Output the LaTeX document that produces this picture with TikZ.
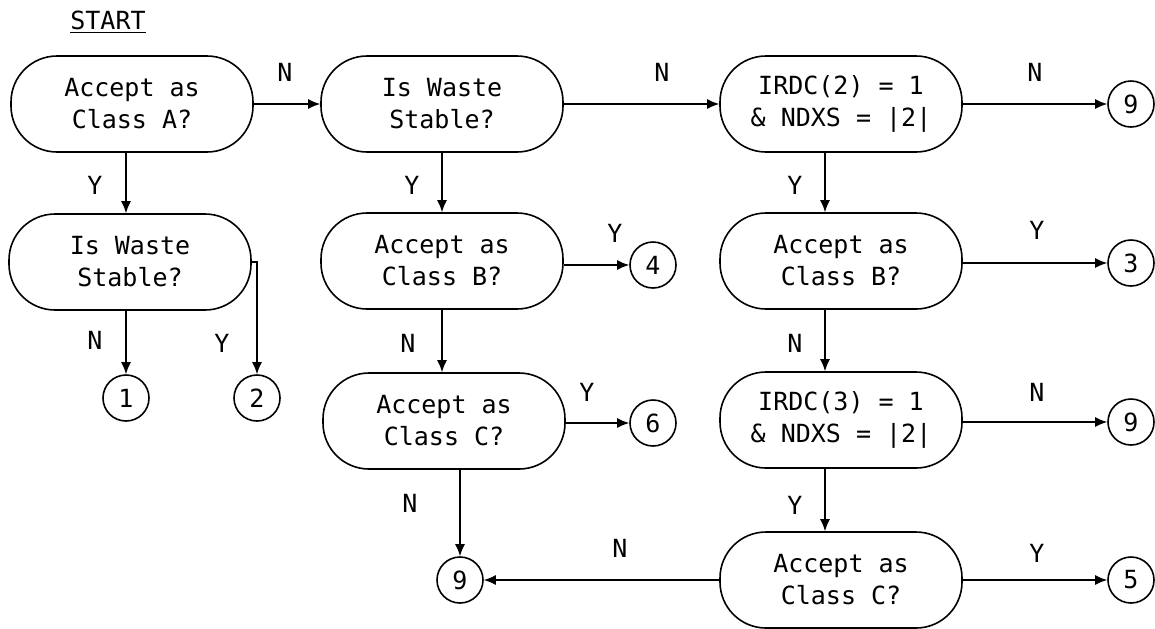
\documentclass[tikz,border=0pt]{standalone}
\usepackage{fontspec}
\setmonofont{DejaVu Sans Mono}
\usetikzlibrary{arrows.meta}

\begin{document}
\begin{tikzpicture}[x=0.5pt,y=-0.5pt,
    every node/.style={font=\ttfamily\fontsize{12.5}{16}\selectfont},
    test/.style={draw,line width=0.8pt,rounded corners=23pt,minimum width=121pt,minimum height=48pt,align=center,inner sep=0pt},
    conn/.style={draw,line width=0.8pt,circle,minimum size=23pt,inner sep=0pt},
    flow/.style={-{Latex[length=6pt,width=5pt]},line width=0.7pt}]
    \useasboundingbox (0,0) rectangle (1155,628);
    \node (start) at (108,22){\underline{START}};
    % left column
    \node[test] (a1) at (132,104){Accept as\\ Class A?};
    \node[test] (s1) at (130,262){Is Waste\\ Stable?};
    \node[conn] (c1) at (126,398){1}; \node[conn] (c2) at (257,398){2};
    % middle column
    \node[test] (w2) at (442,104){Is Waste\\ Stable?};
    \node[test] (b2) at (442,261){Accept as\\ Class B?};
    \node[test] (cc2) at (444,421){Accept as\\ Class C?};
    \node[conn] (c4) at (653,265){4}; \node[conn] (c6) at (653,423){6};
    \node[conn] (n9a) at (460,580){9};
    % right column
    \node[test] (i2) at (841,104){IRDC(2) = 1\\ \& NDXS = |2|};
    \node[test] (b3) at (841,261){Accept as\\ Class B?};
    \node[test] (i3) at (841,420){IRDC(3) = 1\\ \& NDXS = |2|};
    \node[test] (cc3) at (841,580){Accept as\\ Class C?};
    \node[conn] (n9b) at (1131,104){9}; \node[conn] (c3) at (1131,263){3};
    \node[conn] (n9c) at (1131,422){9}; \node[conn] (c5) at (1131,580){5};
    \coordinate (v3) at (825,0);
    % connectors
    \draw[flow] (a1.south -| c1) -- (s1.north -| c1);
    \draw[flow] (a1) -- (w2);
    \draw[flow] (s1.south -| c1) -- (c1);
    \draw[flow] (s1.east) -| (c2);
    \draw[flow] (w2) -- (b2); \draw[flow] (b2) -- (b2 |- cc2.north);
    \draw[flow] (b2.east |- c4) -- (c4); \draw[flow] (cc2.east |- c6) -- (c6);
    \draw[flow] (cc2.south -| n9a) -- (n9a);
    \draw[flow] (w2) -- (i2); \draw[flow] (i2) -- (n9b);
    \draw[flow] (i2.south -| v3) -- (b3.north -| v3);
    \draw[flow] (b3.east |- c3) -- (c3);
    \draw[flow] (b3.south -| v3) -- (i3.north -| v3);
    \draw[flow] (i3.east |- n9c) -- (n9c);
    \draw[flow] (i3.south -| v3) -- (cc3.north -| v3);
    \draw[flow] (cc3) -- (c5); \draw[flow] (cc3) -- (n9a);
    % branch labels
    \node (la) at (285,72){N}; \node (lb) at (95,185){Y};
    \node (lc) at (95,340){N}; \node (ld) at (222,343){Y};
    \node (le) at (662,72){N}; \node (lf) at (412,185){Y};
    \node (lg) at (615,233){Y}; \node (lh) at (408,343){N};
    \node (li) at (587,392){Y}; \node (lj) at (410,503){N};
    \node (lk) at (620,548){N};
    \node (ll) at (1035,72){N}; \node (lm) at (795,185){Y};
    \node (ln) at (1037,230){Y}; \node (lo) at (795,343){N};
    \node (lp) at (1037,392){N}; \node (lq) at (795,505){Y};
    \node (lr) at (1037,553){Y};
\end{tikzpicture}
\end{document}
